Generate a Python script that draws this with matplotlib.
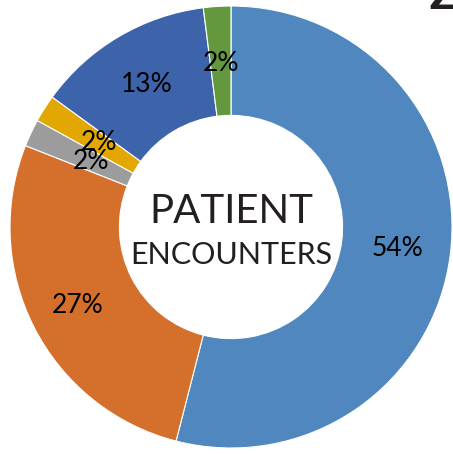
import matplotlib
matplotlib.use("Agg")
import matplotlib.pyplot as plt
import numpy as np

categories = ["A", "B", "C", "D", "E", "F"]
values = [54, 27, 2, 2, 13, 2]
labels = ["54%", "27%", "2%", "2%", "13%", "2%"]
colors = ["#4F87BE", "#D4702C", "#9C9C9C", "#E2A700", "#3D63AB", "#64983F"]

W, H = 453, 454
fig = plt.figure(figsize=(W / 100, H / 100), dpi=100)
ax = fig.add_axes([0, 0, 1, 1])
cx, cy, R = 231, 227, 221

wedges, _ = ax.pie(values, colors=colors, startangle=90, counterclock=False,
                   radius=1, wedgeprops=dict(width=0.495, edgecolor="white", linewidth=0.8))

cum = np.cumsum([0] + values[:-1])
dists = [0.76, 0.78, 0.70, 0.71, 0.75, 0.74]
for v, c, lab, d in zip(values, cum, labels, dists):
    mid = (c + v / 2) / sum(values) * 360
    ang = np.deg2rad(90 - mid)
    ax.text(d * np.cos(ang), d * np.sin(ang), lab, ha="center", va="center",
            fontsize=19, family="Lato", color="black")

ax.text(0, 0.068, "PATIENT", ha="center", va="center", fontsize=29,
        family="Lato", fontweight="normal", color="#231F20")
ax.text(0, -0.125, "ENCOUNTERS", ha="center", va="center", fontsize=22,
        family="Lato", fontweight="normal", color="#231F20")

ax.set_xlim(-cx / R, (W - cx) / R)
ax.set_ylim(-(H - cy) / R, cy / R)
ax.axis("off")

fig.text(441 / W, 1 + 1 / H, "Z", ha="center", va="center", fontsize=26,
         fontweight="bold", family="DejaVu Sans", color="#231F20")

fig.savefig("out.png", dpi=100, facecolor="white")
